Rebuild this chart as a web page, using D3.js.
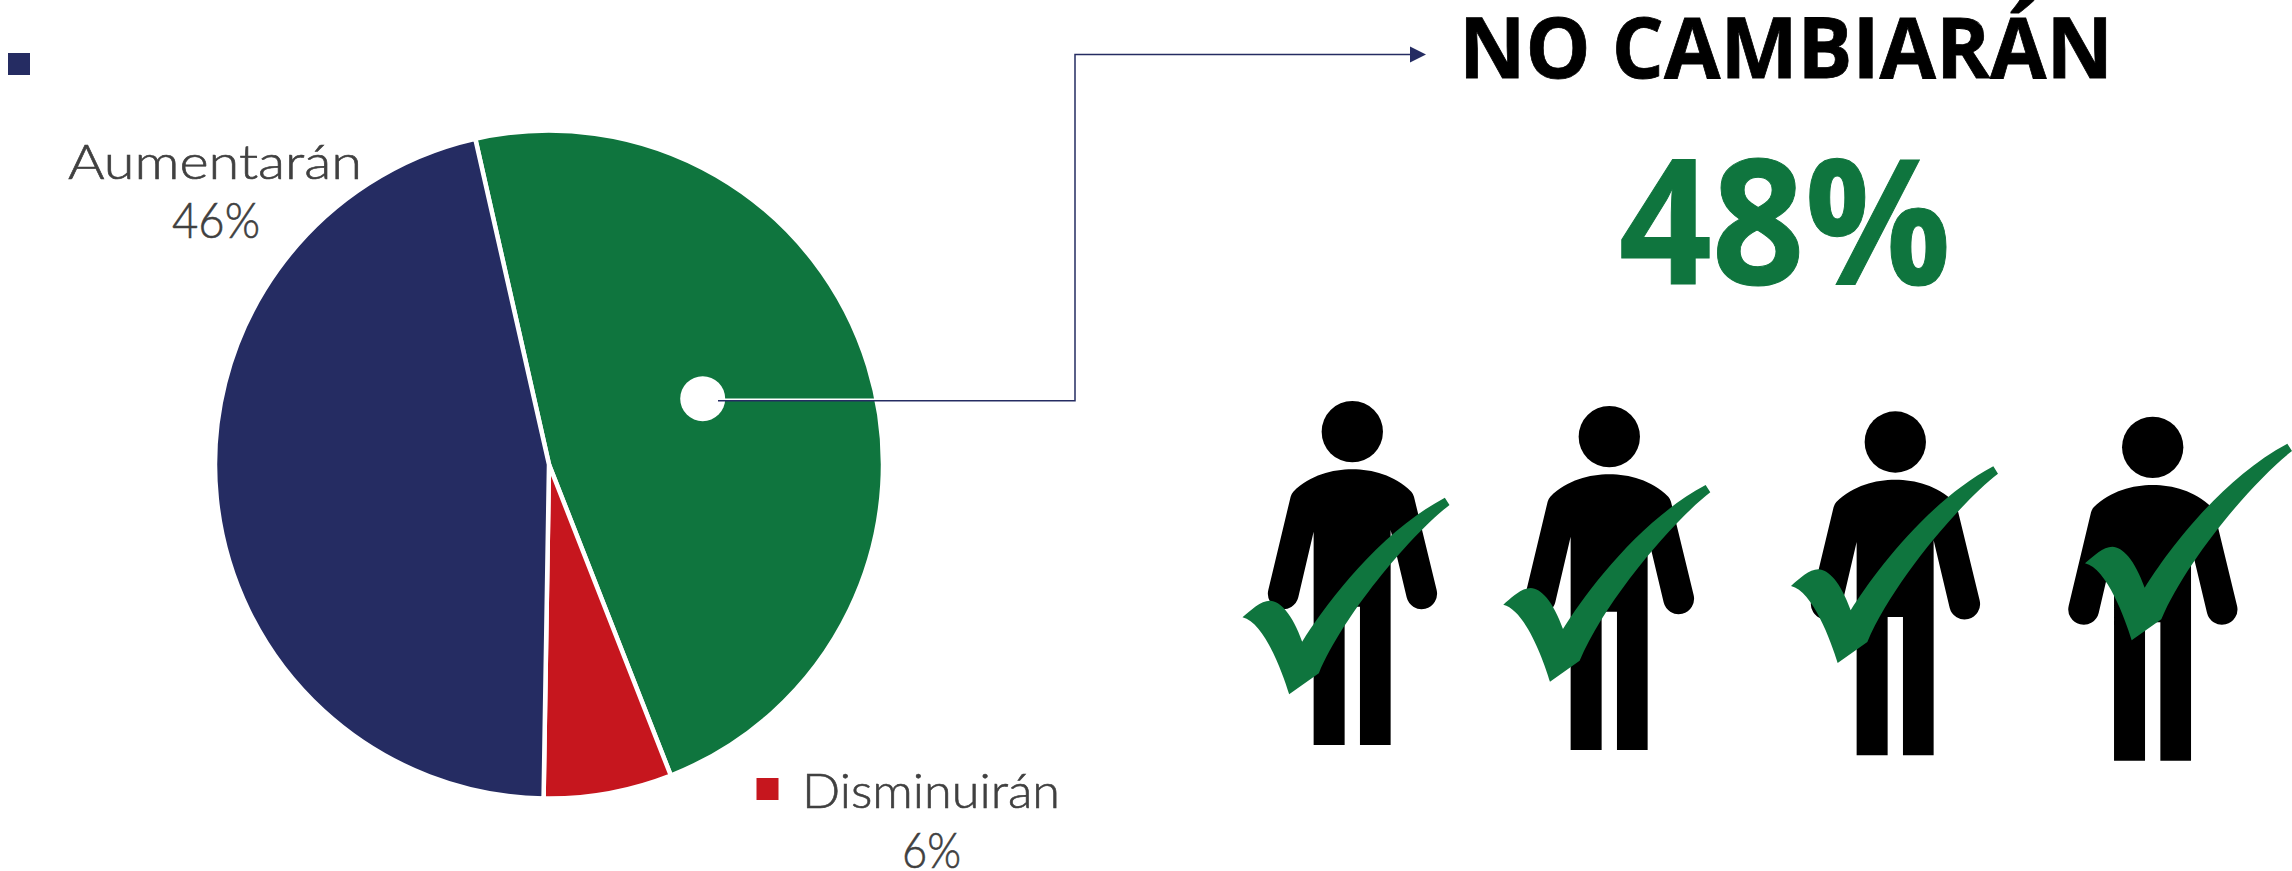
<!DOCTYPE html>
<html>
<head>
<meta charset="utf-8">
<script src="https://cdn.jsdelivr.net/npm/d3@7"></script>
<style>
html, body { margin: 0; padding: 0; background: #fff; overflow: hidden; }
svg { display: block; }
</style>
</head>
<body>
<svg width="2292" height="871"></svg>
<script>
const categories = ["No cambiarán", "Disminuirán", "Aumentarán"];
// slice sizes, the printed labels are rounded
const shares = [47.6, 6.2, 46.2];
const shareLabels = ["48%", "6%", "46%"];
const sliceColors = ["#0f753e", "#c6161e", "#252c62"];

const svg = d3.select("svg");

// pie starts a bit left of 12 o'clock, going clockwise
const pie = d3.pie()
	.value((d, i) => shares[i])
	.sort(null)
	.startAngle(-12.75 * Math.PI / 180)
	.endAngle(347.25 * Math.PI / 180);

const arc = d3.arc().innerRadius(0).outerRadius(334);

svg.append("g")
	.attr("transform", "translate(549,464.5)")
	.selectAll("path")
	.data(pie(categories))
	.join("path")
	.attr("d", arc)
	.attr("fill", (d, i) => sliceColors[i])
	.attr("stroke", "#fff")
	.attr("stroke-width", 4.5);

// legend squares
const legendBoxes = [[8, 53, 2], [756.5, 778, 1]];
svg.selectAll("rect.key")
	.data(legendBoxes)
	.join("rect")
	.attr("class", "key")
	.attr("x", d => d[0])
	.attr("y", d => d[1])
	.attr("width", 22)
	.attr("height", 22)
	.attr("fill", d => sliceColors[d[2]]);

function label(txt, x, y, size, len, opts) {
	const o = opts || {};
	const fill = o.fill || "#404040";
	svg.append("text")
		.attr("x", x)
		.attr("y", y)
		.attr("font-family", o.family || "Lato")
		.attr("font-weight", o.weight || 300)
		.attr("font-size", size)
		.attr("fill", fill)
		.attr("stroke", fill)
		.attr("stroke-width", o.thick === undefined ? 0.6 : o.thick)
		.attr("textLength", len)
		.attr("lengthAdjust", "spacingAndGlyphs")
		.text(txt);
}

label(categories[2], 68, 179, 47, 294);
label(shareLabels[2], 172, 238, 50, 88);
label(categories[1], 802, 808, 47, 258);
label(shareLabels[1], 902, 868, 50, 59);

label(categories[0].toUpperCase(), 1459, 78, 85, 654, { family: "Open Sans", weight: 700, fill: "#000", thick: 0.8 });
label(shareLabels[0], 1619, 284, 175, 332, { family: "Open Sans", weight: 700, fill: sliceColors[0], thick: 1 });

// callout from the green slice to the title
svg.append("circle").attr("cx", 702.7).attr("cy", 398.7).attr("r", 22.5).attr("fill", "#fff");
svg.append("path")
	.attr("d", d3.line()([[718, 400.8], [1075, 400.8], [1075, 54.5], [1412, 54.5]]))
	.attr("fill", "none")
	.attr("stroke", "#252c62")
	.attr("stroke-width", 1.5);
svg.append("path")
	.attr("d", d3.line()([[720, 399.3], [875, 399.3]]))
	.attr("stroke", "#fff")
	.attr("stroke-width", 1.5);
svg.append("path")
	.attr("d", "M1410,46.5L1426,54.5L1410,62.5Z")
	.attr("fill", "#252c62");

// person icon, units are zoom px (3x), origin at the head centre
const personBody = "M0,113 C-60,113 -125,130 -177,180 Q-183,187 -185,195 L-252,475 " +
	"A46,46 0 0 0 -162,497 L-116,300 L-116,940 L-23,940 L-23,525 L23,525 L23,940 L115,940 L115,295 " +
	"L163,497 A46,46 0 0 0 253,475 L185,195 Q183,187 177,180 C125,130 60,113 0,113 Z";
// check mark, origin at its left tip
const checkMark = "M0,0 C25,-22 55,-50 82,-50 C112,-50 150,-10 179,73 C245,-32 405,-251 607,-359 " +
	"L621,-337 C510,-252 305,-12 229,168 L140,231 C120,165 65,15 0,0 Z";

const headPos = [[1352.3, 431.7], [1609.3, 436.7], [1895.3, 442], [2152.7, 447.3]];
const checkPos = [[1242.5, 617.3], [1503.3, 604.7], [1791, 586], [2085, 563.3]];

const people = svg.append("g").selectAll("g").data(headPos).join("g")
	.attr("transform", d => `translate(${d[0]},${d[1]}) scale(${1 / 3})`);
people.append("circle").attr("r", 92).attr("fill", "#000");
people.append("path").attr("d", personBody).attr("fill", "#000");

svg.append("g").selectAll("path").data(checkPos).join("path")
	.attr("transform", d => `translate(${d[0]},${d[1]}) scale(${1 / 3})`)
	.attr("d", checkMark)
	.attr("fill", sliceColors[0]);
</script>
</body>
</html>
